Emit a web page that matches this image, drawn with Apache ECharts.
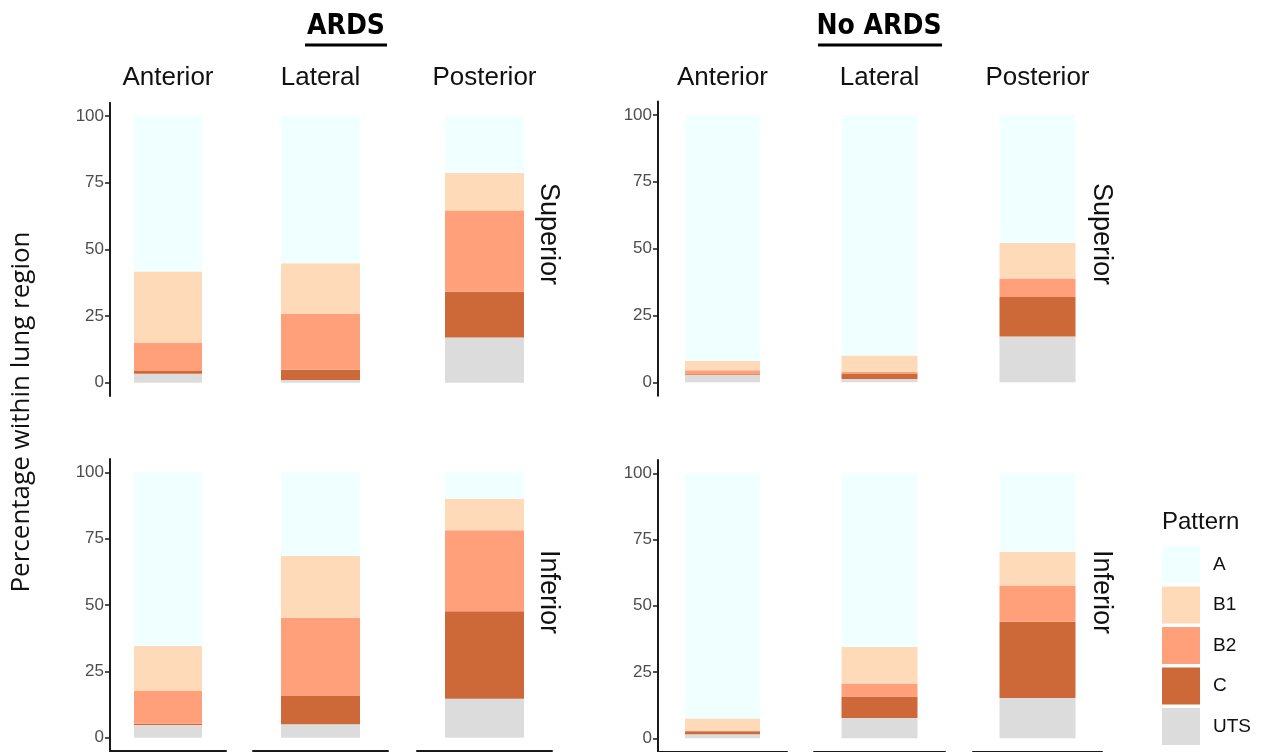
<!DOCTYPE html>
<html>
<head>
<meta charset="utf-8">
<script src="https://cdn.jsdelivr.net/npm/echarts@6/dist/echarts.min.js"></script>
<style>html,body{margin:0;padding:0;background:#fff;}#c{width:1263px;height:752px;}</style>
</head>
<body>
<div id="c"></div>
<script>
// ---- data ----
const groups = ['ARDS', 'No ARDS'];
const rows = ['Superior', 'Inferior'];
const positions = ['Anterior', 'Lateral', 'Posterior'];
const patterns = ['A', 'B1', 'B2', 'C', 'UTS'];
const yTicks = [0, 25, 50, 75, 100];
// values ordered: ARDS-Superior (Ant, Lat, Post), ARDS-Inferior, No ARDS-Superior, No ARDS-Inferior
const valA   = [58.3, 55.2, 21.4,  65.4, 31.5, 10.0,  92.0, 90.0, 47.9,  92.5, 65.6, 29.6];
const valB1  = [26.8, 19.0, 14.0,  17.0, 23.3, 11.8,   3.5,  6.0, 13.3,   4.6, 13.7, 12.8];
const valB2  = [10.5, 21.0, 30.5,  12.3, 29.5, 30.6,   1.5,  0.9,  6.9,   0.3,  4.9, 13.6];
const valC   = [ 1.1,  3.8, 17.2,   0.5, 10.6, 32.9,   0.3,  1.9, 14.8,   1.1,  8.2, 28.8];
const valUTS = [ 3.3,  1.0, 16.9,   4.8,  5.1, 14.7,   2.7,  1.2, 17.1,   1.5,  7.6, 15.2];

// ---- styling / layout ----
const colors = {A: '#F0FFFF', B1: '#FFDAB9', B2: '#FFA07A', C: '#CD6839', UTS: '#DCDCDC'};
const valuesByPattern = {A: valA, B1: valB1, B2: valB2, C: valC, UTS: valUTS};
const stackOrder = ['UTS', 'C', 'B2', 'B1', 'A'];
const colX = [[110, 226], [253, 388], [417, 552], [658, 787], [814, 945], [973, 1102]];
const barW = [68, 79, 79, 75, 76, 76];
const rowY = [[[102.7, 396.0], [459.0, 751.0]], [[101.6, 395.7], [460.0, 751.5]]];

const grids = [], xAxes = [], yAxes = [], series = [];
let idx = 0;
for (let g = 0; g < 2; g++) {
  for (let r = 0; r < 2; r++) {
    for (let c = 0; c < 3; c++) {
      const cx = colX[g * 3 + c];
      const ry = rowY[g][r];
      grids.push({left: cx[0], width: cx[1] - cx[0], top: ry[0], height: ry[1] - ry[0]});
      xAxes.push({
        type: 'category', gridIndex: idx, data: [positions[c]],
        axisLine: {show: r === 1, onZero: false, lineStyle: {color: '#1a1a1a', width: 2}},
        axisTick: {show: false}, axisLabel: {show: false}, splitLine: {show: false}
      });
      yAxes.push({
        type: 'value', gridIndex: idx, min: -5, max: 105,
        axisLine: {show: c === 0, lineStyle: {color: '#1a1a1a', width: 2}},
        axisTick: {show: c === 0, length: 5, customValues: yTicks, lineStyle: {color: '#1a1a1a', width: 1.5}},
        axisLabel: {show: c === 0, customValues: yTicks, color: '#4D4D4D', fontSize: 17, margin: 6, fontFamily: 'Liberation Sans'},
        splitLine: {show: false}
      });
      stackOrder.forEach(p => {
        series.push({
          type: 'bar', name: p, stack: 's' + idx, xAxisIndex: idx, yAxisIndex: idx,
          barWidth: barW[g * 3 + c], data: [valuesByPattern[p][idx]],
          itemStyle: {color: colors[p]}, emphasis: {disabled: true}
        });
      });
      idx++;
    }
  }
}

const graphics = [];
// group titles with underline
const titleX = [346, 879];
const underline = [[305, 387], [818, 942]];
groups.forEach((t, g) => {
  graphics.push({type: 'text', x: titleX[g], y: 27, style: {text: t, fontFamily: 'DejaVu Sans Condensed, DejaVu Sans', fontWeight: 'bold', fontSize: 28, fill: '#000', align: 'center', verticalAlign: 'middle'}});
  graphics.push({type: 'line', shape: {x1: underline[g][0], y1: 45, x2: underline[g][1], y2: 45}, style: {stroke: '#000', lineWidth: 3}});
});
// column headers
for (let k = 0; k < 6; k++) {
  graphics.push({type: 'text', x: (colX[k][0] + colX[k][1]) / 2, y: 78, style: {text: positions[k % 3], fontFamily: 'Liberation Sans', fontSize: 26, fill: '#111', align: 'center', verticalAlign: 'middle'}});
}
// row strips
const stripX = [548, 1101];
const stripY = [234, 592];
for (let g = 0; g < 2; g++) {
  for (let r = 0; r < 2; r++) {
    graphics.push({type: 'text', x: stripX[g], y: stripY[r], rotation: -Math.PI / 2, style: {text: rows[r], fontFamily: 'Liberation Sans', fontSize: 27, fill: '#111', align: 'center', verticalAlign: 'middle'}});
  }
}
// y title
graphics.push({type: 'text', x: 22, y: 412, rotation: Math.PI / 2, style: {text: 'Percentage within lung region', fontFamily: 'Open Sans', fontSize: 26, fill: '#111', align: 'center', verticalAlign: 'middle'}});
// legend title
graphics.push({type: 'text', x: 1162, y: 522, style: {text: 'Pattern', fontFamily: 'Liberation Sans', fontSize: 24, fill: '#111', align: 'left', verticalAlign: 'middle'}});

const chart = echarts.init(document.getElementById('c'), null, {renderer: 'canvas'});
chart.setOption({
  animation: false,
  backgroundColor: '#fff',
  grid: grids, xAxis: xAxes, yAxis: yAxes, series: series,
  legend: {
    data: patterns, orient: 'vertical', left: 1162, top: 546, padding: 0, height: 206,
    itemWidth: 38, itemHeight: 37, itemGap: 3.5, icon: 'rect', selectedMode: false,
    textStyle: {fontSize: 19, color: '#111', fontFamily: 'Liberation Sans', padding: [0, 0, 0, 8]}
  },
  graphic: graphics
});
</script>
</body>
</html>
